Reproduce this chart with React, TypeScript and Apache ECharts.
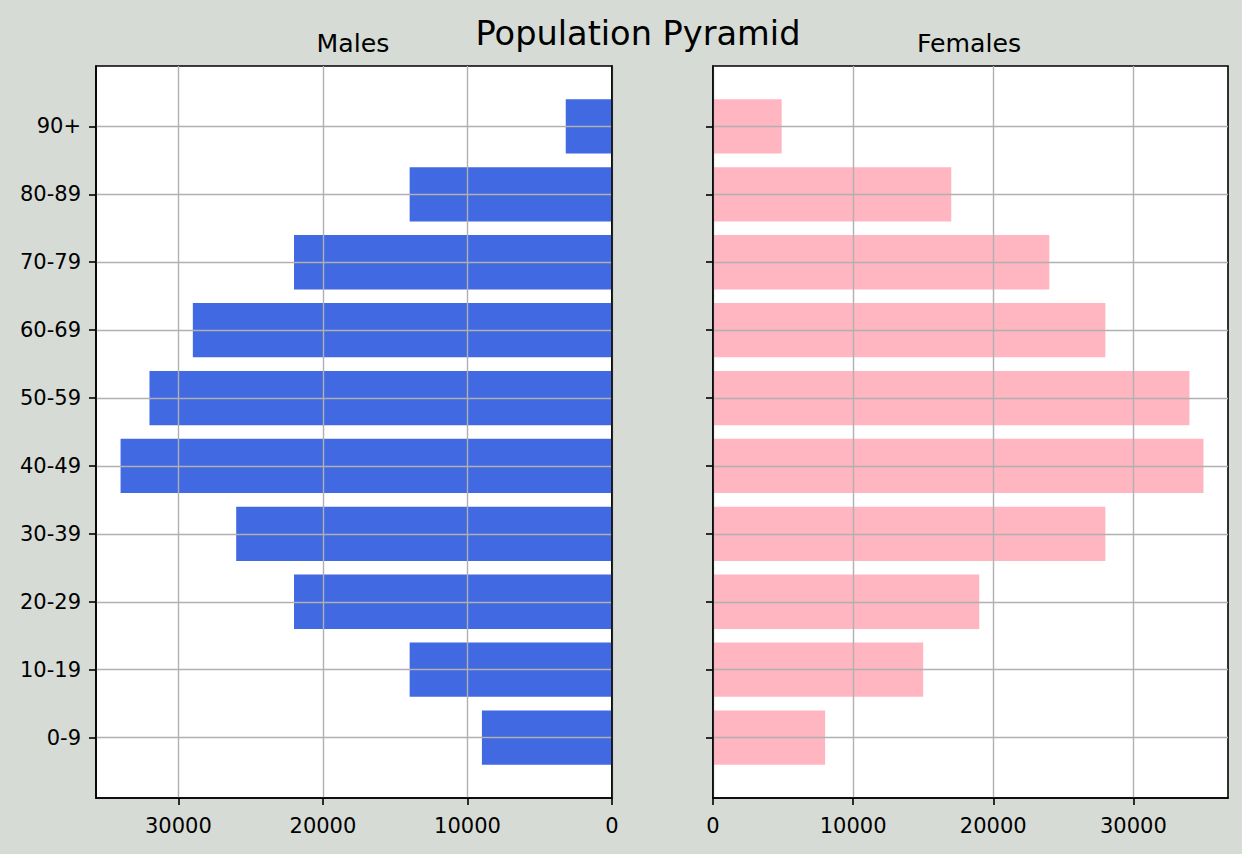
import React, { useEffect, useRef } from "react";
import * as echarts from "echarts";

const AGE_GROUPS = ["0-9", "10-19", "20-29", "30-39", "40-49", "50-59", "60-69", "70-79", "80-89", "90+"];
const MALES = [9000, 14000, 22000, 26000, 34000, 32000, 29000, 22000, 14000, 3200];
const FEMALES = [8000, 15000, 19000, 28000, 35000, 34000, 28000, 24000, 17000, 4900];
const X_TICKS = [0, 10000, 20000, 30000];
const Y_TICKS = [0, 1, 2, 3, 4, 5, 6, 7, 8, 9];
const TITLE = "Population Pyramid";
const LEFT_TITLE = "Males";
const RIGHT_TITLE = "Females";

const FONT = "DejaVu Sans";
const BG = "#d6dbd5";
const MALE_COLOR = "#4169e1";
const FEMALE_COLOR = "#ffb6c1";
const GRID_COLOR = "#b0b0b0";
const FRAME = "#000000";
const BAR_HALF = 0.4;
const Y_MIN = -0.89;
const Y_MAX = 9.89;

function barRender(color: string) {
  return (params: any, api: any) => {
    const v = api.value(0);
    const c = api.value(1);
    const a = api.coord([0, c + BAR_HALF]);
    const b = api.coord([v, c - BAR_HALF]);
    return {
      type: "rect",
      shape: {
        x: Math.min(a[0], b[0]),
        y: Math.min(a[1], b[1]),
        width: Math.abs(b[0] - a[0]),
        height: Math.abs(b[1] - a[1]),
      },
      style: { fill: color },
    };
  };
}

function xAxis(gridIndex: number, max: number, inverse: boolean) {
  return {
    type: "value",
    gridIndex,
    min: 0,
    max,
    interval: 10000,
    inverse,
    position: "bottom",
    axisLine: { show: true, onZero: false, lineStyle: { color: FRAME, width: 1.6 } },
    axisTick: { show: true, length: 7, customValues: X_TICKS, lineStyle: { color: FRAME, width: 1.6 } },
    axisLabel: {
      show: true,
      customValues: X_TICKS,
      margin: 17,
      fontSize: 21,
      fontFamily: FONT,
      color: "#000",
      formatter: (v: number) => (v % 10000 === 0 ? String(v) : ""),
      showMinLabel: true,
      showMaxLabel: true,
      hideOverlap: false,
    },
    splitLine: { show: true, lineStyle: { color: GRID_COLOR, width: 1.4 } },
  };
}

function yAxisMain(gridIndex: number, labels: boolean) {
  return {
    type: "value",
    gridIndex,
    min: Y_MIN,
    max: Y_MAX,
    minInterval: 1,
    maxInterval: 1,
    position: "left",
    axisLine: { show: true, onZero: false, lineStyle: { color: FRAME, width: 1.6 } },
    axisTick: { show: true, length: 7, customValues: Y_TICKS, lineStyle: { color: FRAME, width: 1.6 } },
    axisLabel: {
      show: labels,
      customValues: Y_TICKS,
      margin: 15,
      fontSize: 21,
      fontFamily: FONT,
      color: "#000",
      formatter: (v: number) => (Number.isInteger(v) && AGE_GROUPS[v] !== undefined ? AGE_GROUPS[v] : ""),
      showMinLabel: true,
      showMaxLabel: true,
      hideOverlap: false,
    },
    splitLine: { show: true, lineStyle: { color: GRID_COLOR, width: 1.4 } },
  };
}

export default function App() {
  const ref = useRef<HTMLDivElement>(null);
  useEffect(() => {
    if (!ref.current) return;
    const chart = echarts.init(ref.current, undefined, { renderer: "svg" });
    const gridCommon = {
      top: 66,
      height: 732,
      show: true,
      backgroundColor: "#ffffff",
      borderColor: FRAME,
      borderWidth: 1.6,
      z: -2,
      containLabel: false,
    };
    chart.setOption({
      animation: false,
      backgroundColor: BG,
      textStyle: { fontFamily: FONT },
      title: [
        {
          text: TITLE,
          left: 638,
          top: 16.6,
          textAlign: "center",
          padding: 0,
          textStyle: { fontSize: 33.6, fontWeight: "normal", color: "#000", fontFamily: FONT },
        },
        {
          text: LEFT_TITLE,
          left: 353,
          top: 31.2,
          textAlign: "center",
          padding: 0,
          textStyle: { fontSize: 25.2, fontWeight: "normal", color: "#000", fontFamily: FONT },
        },
        {
          text: RIGHT_TITLE,
          left: 969,
          top: 31.2,
          textAlign: "center",
          padding: 0,
          textStyle: { fontSize: 25.2, fontWeight: "normal", color: "#000", fontFamily: FONT },
        },
      ],
      grid: [
        { ...gridCommon, left: 96, width: 516 },
        { ...gridCommon, left: 713, width: 515 },
      ],
      xAxis: [xAxis(0, 35700, true), xAxis(1, 36750, false)],
      yAxis: [
        yAxisMain(0, true),
        {
          type: "value",
          gridIndex: 0,
          min: Y_MIN,
          max: Y_MAX,
          position: "right",
          axisLine: { show: true, onZero: false, lineStyle: { color: FRAME, width: 1.6 } },
          axisTick: { show: false },
          axisLabel: { show: false },
          splitLine: { show: false },
        },
        yAxisMain(1, false),
      ],
      series: [
        {
          type: "custom",
          name: LEFT_TITLE,
          xAxisIndex: 0,
          yAxisIndex: 0,
          z: -1,
          renderItem: barRender(MALE_COLOR),
          encode: { x: 0, y: 1 },
          data: MALES.map((v, i) => [v, i]),
        },
        {
          type: "custom",
          name: RIGHT_TITLE,
          xAxisIndex: 1,
          yAxisIndex: 2,
          z: -1,
          renderItem: barRender(FEMALE_COLOR),
          encode: { x: 0, y: 1 },
          data: FEMALES.map((v, i) => [v, i]),
        },
      ],
    });
    return () => chart.dispose();
  }, []);
  return <div ref={ref} style={{ position: "fixed", left: 0, top: 0, width: 1242, height: 854 }} />;
}
